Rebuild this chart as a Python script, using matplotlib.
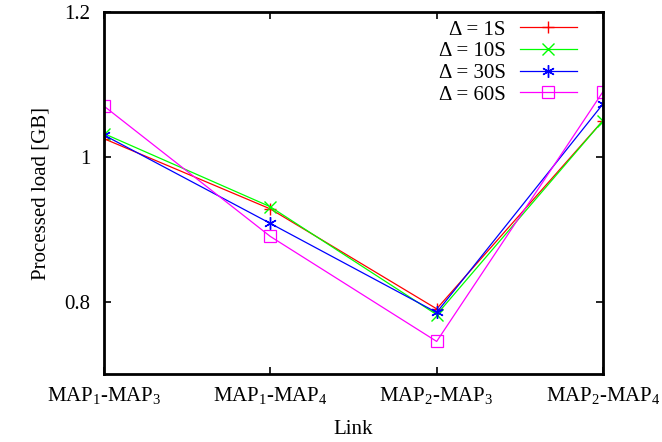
import matplotlib
matplotlib.use("Agg")
import matplotlib.pyplot as plt

plt.rcParams['font.family'] = ['Liberation Serif', 'DejaVu Serif']
plt.rcParams['mathtext.fontset'] = 'custom'
plt.rcParams['mathtext.rm'] = 'Liberation Serif'
plt.rcParams['mathtext.it'] = 'Liberation Serif'

links = [r'MAP$_1$-MAP$_3$', r'MAP$_1$-MAP$_4$', r'MAP$_2$-MAP$_3$', r'MAP$_2$-MAP$_4$']
d1 = [1.025, 0.928, 0.790, 1.050]
d10 = [1.032, 0.931, 0.782, 1.050]
d30 = [1.030, 0.908, 0.785, 1.073]
d60 = [1.070, 0.890, 0.745, 1.090]

labels = [r'Δ = 1S', r'Δ = 10S', r'Δ = 30S', r'Δ = 60S']
colors = ['#ff0000', '#00ff00', '#0000ff', '#ff00ff']
markers = ['+', 'x', (6, 2, 0), 's']

fs = 15
fig = plt.figure(figsize=(6.62, 4.42), dpi=100)
ax = fig.add_axes([104/662, 1 - 374/442, (603-104)/662, (374-12)/442])

x = range(len(links))
for vals, lab, c, m in zip([d1, d10, d30, d60], labels, colors, markers):
    if m == 's':
        ax.plot(x, vals, color=c, lw=0.9, marker=m, ms=8, mfc='none', mec=c, mew=0.9, label=lab)
    else:
        ax.plot(x, vals, color=c, lw=0.9, marker=m, ms=9, mew=1.0, label=lab)

ax.set_xlim(0, 3)
ax.set_ylim(0.7, 1.2)
ax.set_xticks(list(x))
ax.set_xticklabels(links, fontsize=fs)
ax.set_yticks([0.8, 1.0, 1.2])
ax.set_yticklabels(['0.8', '1', '1.2'], fontsize=fs)
ax.tick_params(axis='x', direction='in', top=True, length=5, width=1.2, pad=8)
ax.tick_params(axis='y', direction='in', right=True, length=5, width=1.2, pad=10)
for s in ax.spines.values():
    s.set_linewidth(2)

ax.set_xlabel('Link', fontsize=fs, labelpad=10)
ax.set_ylabel('Processed load [GB]', fontsize=fs, labelpad=10)

ax.legend(loc='upper right', bbox_to_anchor=(577/662, 1 - 20/442),
          bbox_transform=fig.transFigure, markerfirst=False, frameon=False,
          fontsize=fs, numpoints=1, handlelength=2.75, labelspacing=0.1,
          borderaxespad=0, borderpad=0, handletextpad=0.67)

fig.savefig('out.png', dpi=100)
